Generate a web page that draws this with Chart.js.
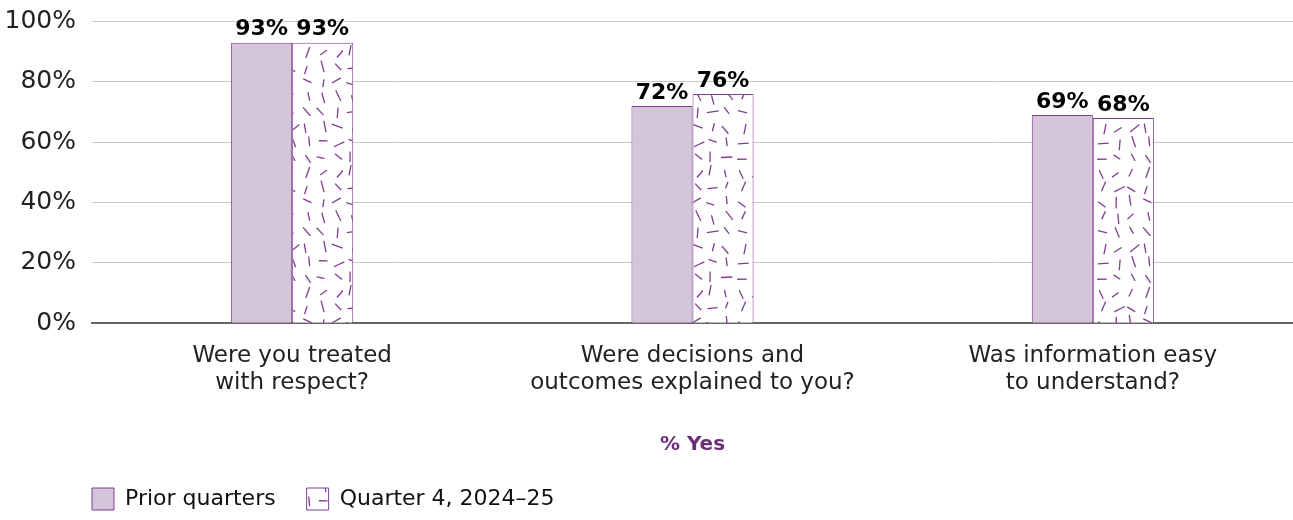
<!DOCTYPE html>
<html>
<head>
<meta charset="utf-8">
<script src="https://cdn.jsdelivr.net/npm/chart.js@4.4.1/dist/chart.umd.min.js"></script>
<style>
  html, body { margin: 0; padding: 0; background: #fff; }
  #wrap { width: 1293px; height: 520px; position: relative; }
</style>
</head>
<body>
<div id="wrap"><canvas id="myChart"></canvas></div>
<script>
"use strict"
// data
const categories = [
    ["Were you treated", "with respect?"],
    ["Were decisions and", "outcomes explained to you?"],
    ["Was information easy", "to understand?"]
];
const priorQuarters = [93, 72, 69];
const quarter4 = [93, 76, 68];
const yTicks = [0, 20, 40, 60, 80, 100];

const purple = "#7e3f8f";
const lilac = "#d3c5da";
const fontFamily = "'DejaVu Sans', 'Open Sans', sans-serif";

// white fill with short purple dashes, one per small cell so they rarely cross
function makeDashPattern() {
    let cell = 15;
    let n = 8;
    let size = cell * n;
    let c = document.createElement("canvas");
    c.width = size;
    c.height = size;
    let ctx = c.getContext("2d");
    ctx.fillStyle = "#fff";
    ctx.fillRect(0, 0, size, size);
    ctx.strokeStyle = purple;
    ctx.lineWidth = 1.3;
    let seed = 4242;
    function next() {
        seed = (seed * 16807) % 2147483647;
        return seed / 2147483647;
    }
    for (let r = 0; r < n; r++) {
        for (let k = 0; k < n; k++) {
            let x = k * cell + cell / 2 + (next() - 0.5) * 5;
            let y = r * cell + cell / 2 + (next() - 0.5) * 5;
            let a = next() * Math.PI;
            let len = 7 + next() * 5;
            let dx = Math.cos(a) * len / 2;
            let dy = Math.sin(a) * len / 2;
            ctx.beginPath();
            ctx.moveTo(x - dx, y - dy);
            ctx.lineTo(x + dx, y + dy);
            ctx.stroke();
        }
    }
    return ctx.createPattern(c, "repeat");
}

const barLabels = {
    id: "barLabels",
    afterDatasetsDraw(chart) {
        let ctx = chart.ctx;
        ctx.save();
        ctx.font = "bold 22px " + fontFamily;
        ctx.fillStyle = "#000";
        ctx.textAlign = "center";
        ctx.textBaseline = "bottom";
        chart.data.datasets.forEach(function (ds, i) {
            let meta = chart.getDatasetMeta(i);
            meta.data.forEach(function (bar, j) {
                ctx.fillText(ds.data[j] + "%", bar.x, bar.y - 2);
            });
        });
        ctx.restore();
    }
};

// legend starts under the plot, not at the canvas edge,
// and gets a wider gap between its two items once its height is fixed
const shiftLegend = {
    id: "shiftLegend",
    afterLayout(chart) {
        let lg = chart.legend;
        let extra = 9;
        lg.options.labels.padding = 22 + extra;
        lg.left += 70 - extra;
        lg.right += 70 - extra;
        lg.top -= extra;
        lg.bottom -= extra;
    }
};

let ctx = document.getElementById("myChart").getContext("2d");
let myChart = new Chart(ctx, {
    type: "bar",
    data: {
        labels: categories,
        datasets: [
            {
                label: "Prior quarters",
                data: priorQuarters,
                backgroundColor: lilac,
                borderColor: purple,
                borderWidth: 1
            },
            {
                label: "Quarter 4, 2024\u201325",
                data: quarter4,
                backgroundColor: makeDashPattern(),
                borderColor: purple,
                borderWidth: 1
            }
        ]
    },
    options: {
        responsive: true,
        maintainAspectRatio: false,
        animation: false,
        layout: { padding: { left: 0, right: 0, top: 0, bottom: 0 } },
        categoryPercentage: 0.305,
        barPercentage: 1,
        plugins: {
            tooltip: { enabled: false },
            legend: {
                position: "bottom",
                align: "start",
                labels: {
                    boxWidth: 22,
                    boxHeight: 22,
                    padding: 22,
                    color: "#111",
                    font: { family: fontFamily, size: 22 }
                }
            }
        },
        scales: {
            x: {
                grid: { display: false, drawTicks: false },
                border: { display: true, color: "#666", width: 2 },
                ticks: {
                    color: "#222",
                    padding: 19,
                    maxRotation: 0,
                    font: { family: fontFamily, size: 23, lineHeight: 1.17 }
                },
                title: {
                    display: true,
                    text: "% Yes",
                    color: "#6b2c7a",
                    padding: { top: 18, bottom: 9 },
                    font: { family: fontFamily, size: 20, weight: "bold" }
                }
            },
            y: {
                min: 0,
                max: 100,
                afterBuildTicks: function (scale) {
                    scale.ticks = yTicks.map(function (v) { return { value: v }; });
                },
                afterFit: function (scale) {
                    scale.width = 92;
                },
                grid: { color: "#c8c8c8", lineWidth: 1, drawTicks: false },
                border: { display: false },
                ticks: {
                    color: "#222",
                    padding: 16,
                    font: { family: fontFamily, size: 25, lineHeight: 0.45 },
                    callback: function (v) { return v + "%"; }
                }
            }
        }
    },
    plugins: [barLabels, shiftLegend]
});
</script>
</body>
</html>
